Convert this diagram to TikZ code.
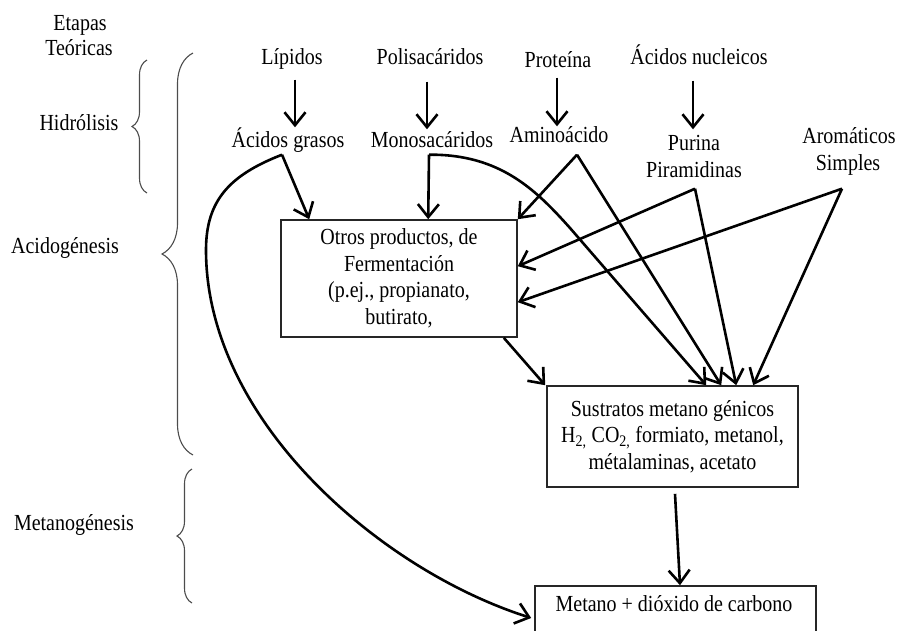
\documentclass[tikz,border=0pt]{standalone}
\usepackage{fontspec}
\usepackage{graphicx}
\setmainfont{Liberation Serif}
\usetikzlibrary{arrows.meta,decorations.pathreplacing,calc}
\newcommand\vst[1]{\scalebox{1}[1.15]{#1}}
\begin{document}
\begin{tikzpicture}[x=1pt,y=-1pt,
  lbl/.style={inner sep=0pt, text height=15pt, text depth=4pt, font=\fontsize{20}{26}\selectfont},
  boxnode/.style={draw=black!85, line width=1.6pt, inner sep=0pt, align=center, font=\fontsize{20}{26.5}\selectfont},
  arr/.style={line width=2.6pt, -{Straight Barb[length=13pt,width=21pt,line width=2.6pt]}},
  brc/.style={draw=black!70, line width=1.1pt, decorate, decoration={brace, amplitude=#1}}
]
\useasboundingbox (0,0) rectangle (898,630);
\clip (0,0) rectangle (898,630);

% stage labels
\node[lbl] (etapas) at (80,25) {\vst{Etapas}};
\node[lbl] (teoricas) at (79,50) {\vst{Teóricas}};
\node[lbl] (hidro) at (79,125) {\vst{Hidrólisis}};
\node[lbl] (acido) at (65,248) {\vst{Acidogénesis}};
\node[lbl] (metano_g) at (74,525) {\vst{Metanogénesis}};

% braces
\draw[brc=15] (147,193) -- (147,60);
\draw[brc=31] (193,455) -- (193,53);
\draw[brc=15] (192,603) -- (192,469);

% top row
\node[lbl] (lipidos) at (292,59) {\vst{Lípidos}};
\node[lbl] (polisac) at (430,59) {\vst{Polisacáridos}};
\node[lbl] (proteina) at (558,62) {\vst{Proteína}};
\node[lbl] (acnuc) at (699,59) {\vst{Ácidos nucleicos}};

% second row
\node[lbl] (acgrasos) at (288,142) {\vst{Ácidos grasos}};
\node[lbl] (monosac) at (432,142) {\vst{Monosacáridos}};
\node[lbl] (aminoac) at (559,137) {\vst{Aminoácido}};
\node[lbl] (purina) at (694,145) {\vst{Purina}};
\node[lbl] (piramid) at (694,172) {\vst{Piramidinas}};
\node[lbl] (aromat) at (849,138) {\vst{Aromáticos}};
\node[lbl] (simples) at (848,165) {\vst{Simples}};

% boxes
\node[boxnode, minimum width=236pt, minimum height=117pt] (otros) at (399,278.5)
  {\vst{Otros productos, de}\\\vst{Fermentación}\\\vst{(p.ej., propianato,}\\\vst{butirato,}};
\node[boxnode, minimum width=251pt, minimum height=101pt] (sust) at (672.5,436.5)
  {\vst{Sustratos metano génicos}\\\vst{H\textsubscript{2,} CO\textsubscript{2,} formiato, metanol,}\\\vst{métalaminas, acetato}};
\node[boxnode, minimum width=281pt, minimum height=60pt] (metano) at (675.5,616) {};
\node[lbl] (metanotxt) at (674,606) {\vst{Metano + dióxido de carbono}};

% hydrolysis arrows
\draw[arr] ($(lipidos.south)+(3,11)$) -- ($(acgrasos.north)+(7,-5)$);
\draw[arr] ($(polisac.south)+(-3,13)$) -- ($(monosac.north)+(-5,-3)$);
\draw[arr] ($(proteina.south)+(-1,6)$) -- ($(aminoac.north)+(-2,-1)$);
\draw[arr] ($(acnuc.south)+(-6,12)$) -- ($(purina.north)+(-1,-6)$);

% into Otros
\draw[arr] ($(acgrasos.south)+(-6,3)$) -- ($(otros.north west)+(29,0)$);
\draw[arr] ($(monosac.south)+(-3,3)$) -- ($(otros.north west)+(148,0)$);
\draw[arr] ($(aminoac.south)+(18,8)$) -- (otros.north east);
\draw[arr] ($(piramid.south)+(1,7)$) -- ($(otros.north east)+(0,47)$);
\draw[arr] ($(simples.south)+(-6,14)$) -- ($(otros.north east)+(0,83)$);

% into Sustratos
\draw[arr] ($(monosac.south)+(-3,3)$) .. controls (500,154) and (536,190) .. (570,228) -- ($(sust.north west)+(160,0)$);
\draw[arr] ($(aminoac.south)+(18,8)$) -- ($(sust.north west)+(175,0)$);
\draw[arr] ($(piramid.south)+(1,7)$) -- ($(sust.north west)+(190,0)$);
\draw[arr] ($(simples.south)+(-6,14)$) -- ($(sust.north west)+(207,0)$);
\draw[arr] ($(otros.south east)+(-14,0)$) -- ($(sust.north west)+(-1,0)$);

% into Metano
\draw[arr] ($(sust.south)+(2.5,6)$) -- ($(metano.north)+(4.5,0)$);
\draw[arr] ($(acgrasos.south)+(-6,3)$) .. controls (230,175) and (206,200) .. (206,250)
  .. controls (206,420) and (380,570) .. ($(metano.west)+(-3,2)$);
\end{tikzpicture}
\end{document}
